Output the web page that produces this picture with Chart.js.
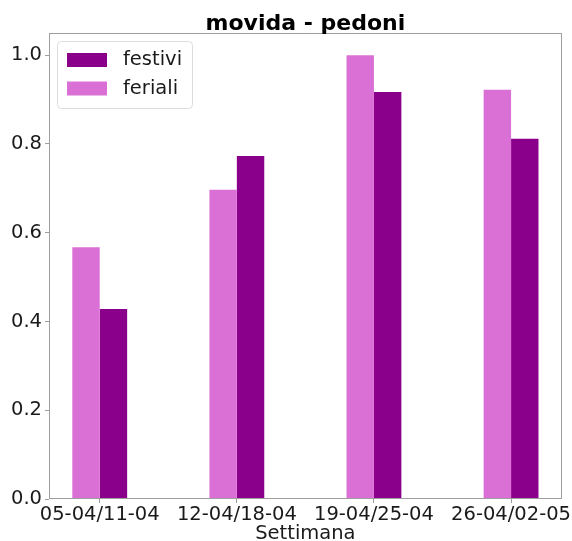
<!DOCTYPE html>
<html>
<head>
<meta charset="utf-8">
<script src="https://cdn.jsdelivr.net/npm/chart.js@4/dist/chart.umd.min.js"></script>
<style>
  html, body { margin: 0; padding: 0; background: #ffffff; }
  #wrap { width: 572px; height: 541px; position: relative; }
</style>
</head>
<body>
<div id="wrap"><canvas id="c" width="572" height="541"></canvas></div>
<script>
const chartTitle = 'movida - pedoni';
const xAxisTitle = 'Settimana';
const categories = ['05-04/11-04', '12-04/18-04', '19-04/25-04', '26-04/02-05'];
const feriali = [0.567, 0.697, 1.0, 0.922];
const festivi = [0.428, 0.773, 0.917, 0.812];
const yTicks = [0.0, 0.2, 0.4, 0.6, 0.8, 1.0];

const FONT = 'DejaVu Sans';
const TXT = '#1a1a1a';
const SPINE = '#9e9e9e';

const frameAndTitle = {
  id: 'frameAndTitle',
  afterDraw(chart) {
    const ctx = chart.ctx;
    const a = chart.chartArea;
    ctx.save();
    // frame (all four spines)
    ctx.strokeStyle = SPINE;
    ctx.lineWidth = 1;
    ctx.strokeRect(Math.round(a.left) + 0.5, Math.round(a.top) + 0.5,
                   Math.round(a.right - a.left) - 1, Math.round(a.bottom - a.top) - 1);
    // title
    ctx.fillStyle = '#000';
    ctx.font = 'bold 22px "' + FONT + '"';
    ctx.textAlign = 'center';
    ctx.textBaseline = 'alphabetic';
    ctx.fillText(chartTitle, (a.left + a.right) / 2, 30);
    // legend (order: festivi, feriali)
    const items = chart.data.datasets.slice().reverse();
    const lx = a.left + 8, ly = a.top + 8, lw = 135, lh = 67;
    ctx.beginPath();
    ctx.roundRect(lx + 0.5, ly + 0.5, lw, lh, 4);
    ctx.fillStyle = 'rgba(255,255,255,0.8)';
    ctx.fill();
    ctx.strokeStyle = '#dcdcdc';
    ctx.stroke();
    ctx.font = '19.5px "' + FONT + '"';
    ctx.textAlign = 'left';
    ctx.textBaseline = 'middle';
    items.forEach((ds, i) => {
      const cy = ly + 19 + i * 28.5;
      ctx.fillStyle = ds.backgroundColor;
      ctx.fillRect(lx + 10, cy - 7, 40, 14);
      ctx.fillStyle = TXT;
      ctx.fillText(ds.label, lx + 66, cy);
    });
    ctx.restore();
  }
};

new Chart(document.getElementById('c'), {
  type: 'bar',
  data: {
    datasets: [
      { label: 'feriali', data: feriali.map((v, i) => ({ x: i, y: v })), backgroundColor: '#DA70D6', borderWidth: 0 },
      { label: 'festivi', data: festivi.map((v, i) => ({ x: i, y: v })), backgroundColor: '#8B008B', borderWidth: 0 }
    ]
  },
  options: {
    responsive: false,
    animation: false,
    devicePixelRatio: 1,
    categoryPercentage: 0.4,
    barPercentage: 1.0,
    layout: { padding: { top: 33, right: 10, left: 0, bottom: 0 } },
    plugins: { legend: { display: false }, tooltip: { enabled: false }, title: { display: false } },
    scales: {
      x: {
        type: 'linear',
        min: -0.37,
        max: 3.37,
        offset: false,
        afterBuildTicks: (s) => { s.ticks = categories.map((c, i) => ({ value: i })); },
        afterFit: (s) => { s.height = 42; },
        grid: { display: true, drawOnChartArea: false, drawTicks: true, tickLength: 4, tickColor: SPINE, offset: false },
        border: { display: false },
        ticks: {
          autoSkip: false, maxRotation: 0, minRotation: 0, padding: 0,
          color: TXT, font: { family: FONT, size: 19.5 },
          callback: (v) => categories[v]
        },
        title: {
          display: true, text: xAxisTitle, color: TXT,
          font: { family: FONT, size: 19.5, lineHeight: 0.7 }, padding: 0
        }
      },
      y: {
        min: 0,
        max: 1.05,
        afterBuildTicks: (s) => { s.ticks = yTicks.map(v => ({ value: v })); },
        afterFit: (s) => { s.width = 49; },
        grid: { display: true, drawOnChartArea: false, drawTicks: true, tickLength: 4, tickColor: SPINE },
        border: { display: false },
        ticks: {
          padding: 3, color: TXT, font: { family: FONT, size: 19.5 },
          callback: (v) => Number(v).toFixed(1)
        }
      }
    }
  },
  plugins: [frameAndTitle]
});
</script>
</body>
</html>
